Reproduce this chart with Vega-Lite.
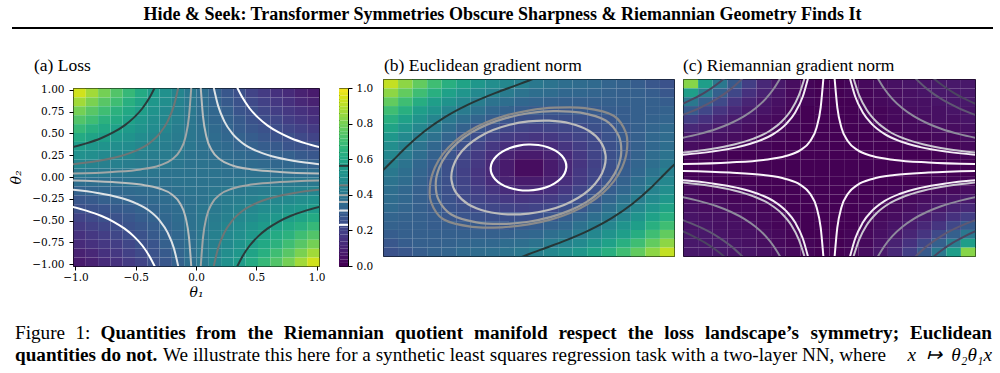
{
"$schema":"https://vega.github.io/schema/vega-lite/v6.json",
"padding":{"left":9,"top":6,"right":0,"bottom":0},
"background":"white",
"config":{
 "view":{"stroke":"black","strokeWidth":1},
 "font":"Liberation Serif",
 "text":{"font":"Liberation Serif","fontSize":19.2,"baseline":"alphabetic","align":"left","color":"black"},
 "title":{"font":"Liberation Serif","fontSize":17.5,"fontWeight":"normal","color":"black","anchor":"start","frame":"group"},
 "axis":{"labelFont":"DejaVu Serif","labelFontSize":10.5,"labelColor":"black","tickColor":"black","tickSize":4,"domain":false,"grid":false,"titleFont":"DejaVu Serif","titleFontStyle":"italic","titleFontWeight":"normal","titleFontSize":14,"titleColor":"black"}
},
"datasets":{
"grid":[
{"x":-1.02,"y":0.918,"a":0.93,"b":0.91,"c":0.82},{"x":-0.918,"y":0.918,"a":0.86,"b":0.83,"c":0.56},{"x":-0.816,"y":0.918,"a":0.79,"b":0.76,"c":0.4},{"x":-0.714,"y":0.918,"a":0.73,"b":0.69,"c":0.28},{"x":-0.612,"y":0.918,"a":0.67,"b":0.63,"c":0.18},{"x":-0.51,"y":0.918,"a":0.61,"b":0.58,"c":0.11},{"x":-0.408,"y":0.918,"a":0.55,"b":0.53,"c":0.06},{"x":-0.306,"y":0.918,"a":0.5,"b":0.49,"c":0.03},{"x":-0.204,"y":0.918,"a":0.45,"b":0.46,"c":0.01},{"x":-0.102,"y":0.918,"a":0.4,"b":0.43,"c":0},{"x":0,"y":0.918,"a":0.36,"b":0.4,"c":0},{"x":0.102,"y":0.918,"a":0.31,"b":0.38,"c":0.01},{"x":0.204,"y":0.918,"a":0.27,"b":0.36,"c":0.02},{"x":0.306,"y":0.918,"a":0.24,"b":0.35,"c":0.03},{"x":0.408,"y":0.918,"a":0.2,"b":0.34,"c":0.04},{"x":0.51,"y":0.918,"a":0.17,"b":0.32,"c":0.05},{"x":0.612,"y":0.918,"a":0.14,"b":0.31,"c":0.05},{"x":0.714,"y":0.918,"a":0.12,"b":0.29,"c":0.06},{"x":0.816,"y":0.918,"a":0.09,"b":0.27,"c":0.06},{"x":0.918,"y":0.918,"a":0.07,"b":0.25,"c":0.06},
{"x":-1.02,"y":0.816,"a":0.86,"b":0.83,"c":0.56},{"x":-0.918,"y":0.816,"a":0.8,"b":0.76,"c":0.42},{"x":-0.816,"y":0.816,"a":0.74,"b":0.69,"c":0.3},{"x":-0.714,"y":0.816,"a":0.69,"b":0.63,"c":0.21},{"x":-0.612,"y":0.816,"a":0.63,"b":0.57,"c":0.14},{"x":-0.51,"y":0.816,"a":0.58,"b":0.52,"c":0.09},{"x":-0.408,"y":0.816,"a":0.53,"b":0.47,"c":0.05},{"x":-0.306,"y":0.816,"a":0.49,"b":0.44,"c":0.02},{"x":-0.204,"y":0.816,"a":0.44,"b":0.41,"c":0.01},{"x":-0.102,"y":0.816,"a":0.4,"b":0.38,"c":0},{"x":0,"y":0.816,"a":0.36,"b":0.36,"c":0},{"x":0.102,"y":0.816,"a":0.32,"b":0.35,"c":0.01},{"x":0.204,"y":0.816,"a":0.28,"b":0.33,"c":0.01},{"x":0.306,"y":0.816,"a":0.25,"b":0.33,"c":0.02},{"x":0.408,"y":0.816,"a":0.22,"b":0.32,"c":0.03},{"x":0.51,"y":0.816,"a":0.19,"b":0.31,"c":0.04},{"x":0.612,"y":0.816,"a":0.16,"b":0.3,"c":0.05},{"x":0.714,"y":0.816,"a":0.14,"b":0.3,"c":0.06},{"x":0.816,"y":0.816,"a":0.11,"b":0.29,"c":0.06},{"x":0.918,"y":0.816,"a":0.09,"b":0.27,"c":0.06},
{"x":-1.02,"y":0.714,"a":0.79,"b":0.76,"c":0.4},{"x":-0.918,"y":0.714,"a":0.74,"b":0.69,"c":0.3},{"x":-0.816,"y":0.714,"a":0.69,"b":0.62,"c":0.22},{"x":-0.714,"y":0.714,"a":0.64,"b":0.56,"c":0.15},{"x":-0.612,"y":0.714,"a":0.6,"b":0.51,"c":0.1},{"x":-0.51,"y":0.714,"a":0.56,"b":0.46,"c":0.06},{"x":-0.408,"y":0.714,"a":0.51,"b":0.42,"c":0.04},{"x":-0.306,"y":0.714,"a":0.47,"b":0.38,"c":0.02},{"x":-0.204,"y":0.714,"a":0.43,"b":0.36,"c":0.01},{"x":-0.102,"y":0.714,"a":0.4,"b":0.33,"c":0},{"x":0,"y":0.714,"a":0.36,"b":0.32,"c":0},{"x":0.102,"y":0.714,"a":0.33,"b":0.31,"c":0},{"x":0.204,"y":0.714,"a":0.3,"b":0.3,"c":0.01},{"x":0.306,"y":0.714,"a":0.26,"b":0.3,"c":0.02},{"x":0.408,"y":0.714,"a":0.24,"b":0.3,"c":0.03},{"x":0.51,"y":0.714,"a":0.21,"b":0.3,"c":0.04},{"x":0.612,"y":0.714,"a":0.18,"b":0.3,"c":0.04},{"x":0.714,"y":0.714,"a":0.16,"b":0.3,"c":0.05},{"x":0.816,"y":0.714,"a":0.14,"b":0.3,"c":0.06},{"x":0.918,"y":0.714,"a":0.12,"b":0.29,"c":0.06},
{"x":-1.02,"y":0.612,"a":0.73,"b":0.69,"c":0.28},{"x":-0.918,"y":0.612,"a":0.69,"b":0.63,"c":0.21},{"x":-0.816,"y":0.612,"a":0.64,"b":0.56,"c":0.15},{"x":-0.714,"y":0.612,"a":0.61,"b":0.51,"c":0.11},{"x":-0.612,"y":0.612,"a":0.57,"b":0.45,"c":0.07},{"x":-0.51,"y":0.612,"a":0.53,"b":0.41,"c":0.05},{"x":-0.408,"y":0.612,"a":0.49,"b":0.37,"c":0.03},{"x":-0.306,"y":0.612,"a":0.46,"b":0.33,"c":0.01},{"x":-0.204,"y":0.612,"a":0.43,"b":0.31,"c":0},{"x":-0.102,"y":0.612,"a":0.39,"b":0.29,"c":0},{"x":0,"y":0.612,"a":0.36,"b":0.28,"c":0},{"x":0.102,"y":0.612,"a":0.33,"b":0.27,"c":0},{"x":0.204,"y":0.612,"a":0.31,"b":0.27,"c":0.01},{"x":0.306,"y":0.612,"a":0.28,"b":0.28,"c":0.01},{"x":0.408,"y":0.612,"a":0.25,"b":0.28,"c":0.02},{"x":0.51,"y":0.612,"a":0.23,"b":0.29,"c":0.03},{"x":0.612,"y":0.612,"a":0.21,"b":0.29,"c":0.04},{"x":0.714,"y":0.612,"a":0.18,"b":0.3,"c":0.04},{"x":0.816,"y":0.612,"a":0.16,"b":0.3,"c":0.05},{"x":0.918,"y":0.612,"a":0.14,"b":0.31,"c":0.05},
{"x":-1.02,"y":0.51,"a":0.67,"b":0.63,"c":0.18},{"x":-0.918,"y":0.51,"a":0.63,"b":0.57,"c":0.14},{"x":-0.816,"y":0.51,"a":0.6,"b":0.51,"c":0.1},{"x":-0.714,"y":0.51,"a":0.57,"b":0.45,"c":0.07},{"x":-0.612,"y":0.51,"a":0.54,"b":0.4,"c":0.05},{"x":-0.51,"y":0.51,"a":0.51,"b":0.36,"c":0.03},{"x":-0.408,"y":0.51,"a":0.48,"b":0.32,"c":0.02},{"x":-0.306,"y":0.51,"a":0.45,"b":0.29,"c":0.01},{"x":-0.204,"y":0.51,"a":0.42,"b":0.26,"c":0},{"x":-0.102,"y":0.51,"a":0.39,"b":0.24,"c":0},{"x":0,"y":0.51,"a":0.37,"b":0.24,"c":0},{"x":0.102,"y":0.51,"a":0.34,"b":0.24,"c":0},{"x":0.204,"y":0.51,"a":0.32,"b":0.24,"c":0.01},{"x":0.306,"y":0.51,"a":0.29,"b":0.25,"c":0.01},{"x":0.408,"y":0.51,"a":0.27,"b":0.26,"c":0.02},{"x":0.51,"y":0.51,"a":0.25,"b":0.27,"c":0.02},{"x":0.612,"y":0.51,"a":0.23,"b":0.29,"c":0.03},{"x":0.714,"y":0.51,"a":0.21,"b":0.3,"c":0.04},{"x":0.816,"y":0.51,"a":0.19,"b":0.31,"c":0.04},{"x":0.918,"y":0.51,"a":0.17,"b":0.32,"c":0.05},
{"x":-1.02,"y":0.408,"a":0.61,"b":0.58,"c":0.11},{"x":-0.918,"y":0.408,"a":0.58,"b":0.52,"c":0.09},{"x":-0.816,"y":0.408,"a":0.56,"b":0.46,"c":0.06},{"x":-0.714,"y":0.408,"a":0.53,"b":0.41,"c":0.05},{"x":-0.612,"y":0.408,"a":0.51,"b":0.36,"c":0.03},{"x":-0.51,"y":0.408,"a":0.48,"b":0.31,"c":0.02},{"x":-0.408,"y":0.408,"a":0.46,"b":0.27,"c":0.01},{"x":-0.306,"y":0.408,"a":0.43,"b":0.24,"c":0.01},{"x":-0.204,"y":0.408,"a":0.41,"b":0.21,"c":0},{"x":-0.102,"y":0.408,"a":0.39,"b":0.2,"c":0},{"x":0,"y":0.408,"a":0.37,"b":0.19,"c":0},{"x":0.102,"y":0.408,"a":0.35,"b":0.2,"c":0},{"x":0.204,"y":0.408,"a":0.33,"b":0.21,"c":0},{"x":0.306,"y":0.408,"a":0.31,"b":0.22,"c":0.01},{"x":0.408,"y":0.408,"a":0.29,"b":0.24,"c":0.01},{"x":0.51,"y":0.408,"a":0.27,"b":0.26,"c":0.02},{"x":0.612,"y":0.408,"a":0.25,"b":0.28,"c":0.02},{"x":0.714,"y":0.408,"a":0.24,"b":0.3,"c":0.03},{"x":0.816,"y":0.408,"a":0.22,"b":0.32,"c":0.03},{"x":0.918,"y":0.408,"a":0.2,"b":0.34,"c":0.04},
{"x":-1.02,"y":0.306,"a":0.55,"b":0.53,"c":0.06},{"x":-0.918,"y":0.306,"a":0.53,"b":0.47,"c":0.05},{"x":-0.816,"y":0.306,"a":0.51,"b":0.42,"c":0.04},{"x":-0.714,"y":0.306,"a":0.49,"b":0.37,"c":0.03},{"x":-0.612,"y":0.306,"a":0.48,"b":0.32,"c":0.02},{"x":-0.51,"y":0.306,"a":0.46,"b":0.27,"c":0.01},{"x":-0.408,"y":0.306,"a":0.44,"b":0.23,"c":0.01},{"x":-0.306,"y":0.306,"a":0.42,"b":0.2,"c":0},{"x":-0.204,"y":0.306,"a":0.4,"b":0.17,"c":0},{"x":-0.102,"y":0.306,"a":0.39,"b":0.16,"c":0},{"x":0,"y":0.306,"a":0.37,"b":0.15,"c":0},{"x":0.102,"y":0.306,"a":0.35,"b":0.16,"c":0},{"x":0.204,"y":0.306,"a":0.34,"b":0.18,"c":0},{"x":0.306,"y":0.306,"a":0.32,"b":0.2,"c":0},{"x":0.408,"y":0.306,"a":0.31,"b":0.22,"c":0.01},{"x":0.51,"y":0.306,"a":0.29,"b":0.25,"c":0.01},{"x":0.612,"y":0.306,"a":0.28,"b":0.28,"c":0.01},{"x":0.714,"y":0.306,"a":0.26,"b":0.3,"c":0.02},{"x":0.816,"y":0.306,"a":0.25,"b":0.33,"c":0.02},{"x":0.918,"y":0.306,"a":0.24,"b":0.35,"c":0.03},
{"x":-1.02,"y":0.204,"a":0.5,"b":0.49,"c":0.03},{"x":-0.918,"y":0.204,"a":0.49,"b":0.44,"c":0.02},{"x":-0.816,"y":0.204,"a":0.47,"b":0.38,"c":0.02},{"x":-0.714,"y":0.204,"a":0.46,"b":0.33,"c":0.01},{"x":-0.612,"y":0.204,"a":0.45,"b":0.29,"c":0.01},{"x":-0.51,"y":0.204,"a":0.43,"b":0.24,"c":0.01},{"x":-0.408,"y":0.204,"a":0.42,"b":0.2,"c":0},{"x":-0.306,"y":0.204,"a":0.41,"b":0.16,"c":0},{"x":-0.204,"y":0.204,"a":0.4,"b":0.13,"c":0},{"x":-0.102,"y":0.204,"a":0.38,"b":0.11,"c":0},{"x":0,"y":0.204,"a":0.37,"b":0.11,"c":0},{"x":0.102,"y":0.204,"a":0.36,"b":0.12,"c":0},{"x":0.204,"y":0.204,"a":0.35,"b":0.15,"c":0},{"x":0.306,"y":0.204,"a":0.34,"b":0.18,"c":0},{"x":0.408,"y":0.204,"a":0.33,"b":0.21,"c":0},{"x":0.51,"y":0.204,"a":0.32,"b":0.24,"c":0.01},{"x":0.612,"y":0.204,"a":0.31,"b":0.27,"c":0.01},{"x":0.714,"y":0.204,"a":0.3,"b":0.3,"c":0.01},{"x":0.816,"y":0.204,"a":0.28,"b":0.33,"c":0.01},{"x":0.918,"y":0.204,"a":0.27,"b":0.36,"c":0.02},
{"x":-1.02,"y":0.102,"a":0.45,"b":0.46,"c":0.01},{"x":-0.918,"y":0.102,"a":0.44,"b":0.41,"c":0.01},{"x":-0.816,"y":0.102,"a":0.43,"b":0.36,"c":0.01},{"x":-0.714,"y":0.102,"a":0.43,"b":0.31,"c":0},{"x":-0.612,"y":0.102,"a":0.42,"b":0.26,"c":0},{"x":-0.51,"y":0.102,"a":0.41,"b":0.21,"c":0},{"x":-0.408,"y":0.102,"a":0.4,"b":0.17,"c":0},{"x":-0.306,"y":0.102,"a":0.4,"b":0.13,"c":0},{"x":-0.204,"y":0.102,"a":0.39,"b":0.09,"c":0},{"x":-0.102,"y":0.102,"a":0.38,"b":0.07,"c":0},{"x":0,"y":0.102,"a":0.38,"b":0.07,"c":0},{"x":0.102,"y":0.102,"a":0.37,"b":0.09,"c":0},{"x":0.204,"y":0.102,"a":0.36,"b":0.12,"c":0},{"x":0.306,"y":0.102,"a":0.35,"b":0.16,"c":0},{"x":0.408,"y":0.102,"a":0.35,"b":0.2,"c":0},{"x":0.51,"y":0.102,"a":0.34,"b":0.24,"c":0},{"x":0.612,"y":0.102,"a":0.33,"b":0.27,"c":0},{"x":0.714,"y":0.102,"a":0.33,"b":0.31,"c":0},{"x":0.816,"y":0.102,"a":0.32,"b":0.35,"c":0.01},{"x":0.918,"y":0.102,"a":0.31,"b":0.38,"c":0.01},
{"x":-1.02,"y":0,"a":0.4,"b":0.43,"c":0},{"x":-0.918,"y":0,"a":0.4,"b":0.38,"c":0},{"x":-0.816,"y":0,"a":0.4,"b":0.33,"c":0},{"x":-0.714,"y":0,"a":0.39,"b":0.29,"c":0},{"x":-0.612,"y":0,"a":0.39,"b":0.24,"c":0},{"x":-0.51,"y":0,"a":0.39,"b":0.2,"c":0},{"x":-0.408,"y":0,"a":0.39,"b":0.16,"c":0},{"x":-0.306,"y":0,"a":0.38,"b":0.11,"c":0},{"x":-0.204,"y":0,"a":0.38,"b":0.07,"c":0},{"x":-0.102,"y":0,"a":0.38,"b":0.03,"c":0},{"x":0,"y":0,"a":0.38,"b":0.03,"c":0},{"x":0.102,"y":0,"a":0.38,"b":0.07,"c":0},{"x":0.204,"y":0,"a":0.37,"b":0.11,"c":0},{"x":0.306,"y":0,"a":0.37,"b":0.15,"c":0},{"x":0.408,"y":0,"a":0.37,"b":0.19,"c":0},{"x":0.51,"y":0,"a":0.37,"b":0.24,"c":0},{"x":0.612,"y":0,"a":0.36,"b":0.28,"c":0},{"x":0.714,"y":0,"a":0.36,"b":0.32,"c":0},{"x":0.816,"y":0,"a":0.36,"b":0.36,"c":0},{"x":0.918,"y":0,"a":0.36,"b":0.4,"c":0},
{"x":-1.02,"y":-0.102,"a":0.36,"b":0.4,"c":0},{"x":-0.918,"y":-0.102,"a":0.36,"b":0.36,"c":0},{"x":-0.816,"y":-0.102,"a":0.36,"b":0.32,"c":0},{"x":-0.714,"y":-0.102,"a":0.36,"b":0.28,"c":0},{"x":-0.612,"y":-0.102,"a":0.37,"b":0.24,"c":0},{"x":-0.51,"y":-0.102,"a":0.37,"b":0.19,"c":0},{"x":-0.408,"y":-0.102,"a":0.37,"b":0.15,"c":0},{"x":-0.306,"y":-0.102,"a":0.37,"b":0.11,"c":0},{"x":-0.204,"y":-0.102,"a":0.38,"b":0.07,"c":0},{"x":-0.102,"y":-0.102,"a":0.38,"b":0.03,"c":0},{"x":0,"y":-0.102,"a":0.38,"b":0.03,"c":0},{"x":0.102,"y":-0.102,"a":0.38,"b":0.07,"c":0},{"x":0.204,"y":-0.102,"a":0.38,"b":0.11,"c":0},{"x":0.306,"y":-0.102,"a":0.39,"b":0.16,"c":0},{"x":0.408,"y":-0.102,"a":0.39,"b":0.2,"c":0},{"x":0.51,"y":-0.102,"a":0.39,"b":0.24,"c":0},{"x":0.612,"y":-0.102,"a":0.39,"b":0.29,"c":0},{"x":0.714,"y":-0.102,"a":0.4,"b":0.33,"c":0},{"x":0.816,"y":-0.102,"a":0.4,"b":0.38,"c":0},{"x":0.918,"y":-0.102,"a":0.4,"b":0.43,"c":0},
{"x":-1.02,"y":-0.204,"a":0.31,"b":0.38,"c":0.01},{"x":-0.918,"y":-0.204,"a":0.32,"b":0.35,"c":0.01},{"x":-0.816,"y":-0.204,"a":0.33,"b":0.31,"c":0},{"x":-0.714,"y":-0.204,"a":0.33,"b":0.27,"c":0},{"x":-0.612,"y":-0.204,"a":0.34,"b":0.24,"c":0},{"x":-0.51,"y":-0.204,"a":0.35,"b":0.2,"c":0},{"x":-0.408,"y":-0.204,"a":0.35,"b":0.16,"c":0},{"x":-0.306,"y":-0.204,"a":0.36,"b":0.12,"c":0},{"x":-0.204,"y":-0.204,"a":0.37,"b":0.09,"c":0},{"x":-0.102,"y":-0.204,"a":0.38,"b":0.07,"c":0},{"x":0,"y":-0.204,"a":0.38,"b":0.07,"c":0},{"x":0.102,"y":-0.204,"a":0.39,"b":0.09,"c":0},{"x":0.204,"y":-0.204,"a":0.4,"b":0.13,"c":0},{"x":0.306,"y":-0.204,"a":0.4,"b":0.17,"c":0},{"x":0.408,"y":-0.204,"a":0.41,"b":0.21,"c":0},{"x":0.51,"y":-0.204,"a":0.42,"b":0.26,"c":0},{"x":0.612,"y":-0.204,"a":0.43,"b":0.31,"c":0},{"x":0.714,"y":-0.204,"a":0.43,"b":0.36,"c":0.01},{"x":0.816,"y":-0.204,"a":0.44,"b":0.41,"c":0.01},{"x":0.918,"y":-0.204,"a":0.45,"b":0.46,"c":0.01},
{"x":-1.02,"y":-0.306,"a":0.27,"b":0.36,"c":0.02},{"x":-0.918,"y":-0.306,"a":0.28,"b":0.33,"c":0.01},{"x":-0.816,"y":-0.306,"a":0.3,"b":0.3,"c":0.01},{"x":-0.714,"y":-0.306,"a":0.31,"b":0.27,"c":0.01},{"x":-0.612,"y":-0.306,"a":0.32,"b":0.24,"c":0.01},{"x":-0.51,"y":-0.306,"a":0.33,"b":0.21,"c":0},{"x":-0.408,"y":-0.306,"a":0.34,"b":0.18,"c":0},{"x":-0.306,"y":-0.306,"a":0.35,"b":0.15,"c":0},{"x":-0.204,"y":-0.306,"a":0.36,"b":0.12,"c":0},{"x":-0.102,"y":-0.306,"a":0.37,"b":0.11,"c":0},{"x":0,"y":-0.306,"a":0.38,"b":0.11,"c":0},{"x":0.102,"y":-0.306,"a":0.4,"b":0.13,"c":0},{"x":0.204,"y":-0.306,"a":0.41,"b":0.16,"c":0},{"x":0.306,"y":-0.306,"a":0.42,"b":0.2,"c":0},{"x":0.408,"y":-0.306,"a":0.43,"b":0.24,"c":0.01},{"x":0.51,"y":-0.306,"a":0.45,"b":0.29,"c":0.01},{"x":0.612,"y":-0.306,"a":0.46,"b":0.33,"c":0.01},{"x":0.714,"y":-0.306,"a":0.47,"b":0.38,"c":0.02},{"x":0.816,"y":-0.306,"a":0.49,"b":0.44,"c":0.02},{"x":0.918,"y":-0.306,"a":0.5,"b":0.49,"c":0.03},
{"x":-1.02,"y":-0.408,"a":0.24,"b":0.35,"c":0.03},{"x":-0.918,"y":-0.408,"a":0.25,"b":0.33,"c":0.02},{"x":-0.816,"y":-0.408,"a":0.26,"b":0.3,"c":0.02},{"x":-0.714,"y":-0.408,"a":0.28,"b":0.28,"c":0.01},{"x":-0.612,"y":-0.408,"a":0.29,"b":0.25,"c":0.01},{"x":-0.51,"y":-0.408,"a":0.31,"b":0.22,"c":0.01},{"x":-0.408,"y":-0.408,"a":0.32,"b":0.2,"c":0},{"x":-0.306,"y":-0.408,"a":0.34,"b":0.18,"c":0},{"x":-0.204,"y":-0.408,"a":0.35,"b":0.16,"c":0},{"x":-0.102,"y":-0.408,"a":0.37,"b":0.15,"c":0},{"x":0,"y":-0.408,"a":0.39,"b":0.16,"c":0},{"x":0.102,"y":-0.408,"a":0.4,"b":0.17,"c":0},{"x":0.204,"y":-0.408,"a":0.42,"b":0.2,"c":0},{"x":0.306,"y":-0.408,"a":0.44,"b":0.23,"c":0.01},{"x":0.408,"y":-0.408,"a":0.46,"b":0.27,"c":0.01},{"x":0.51,"y":-0.408,"a":0.48,"b":0.32,"c":0.02},{"x":0.612,"y":-0.408,"a":0.49,"b":0.37,"c":0.03},{"x":0.714,"y":-0.408,"a":0.51,"b":0.42,"c":0.04},{"x":0.816,"y":-0.408,"a":0.53,"b":0.47,"c":0.05},{"x":0.918,"y":-0.408,"a":0.55,"b":0.53,"c":0.06},
{"x":-1.02,"y":-0.51,"a":0.2,"b":0.34,"c":0.04},{"x":-0.918,"y":-0.51,"a":0.22,"b":0.32,"c":0.03},{"x":-0.816,"y":-0.51,"a":0.24,"b":0.3,"c":0.03},{"x":-0.714,"y":-0.51,"a":0.25,"b":0.28,"c":0.02},{"x":-0.612,"y":-0.51,"a":0.27,"b":0.26,"c":0.02},{"x":-0.51,"y":-0.51,"a":0.29,"b":0.24,"c":0.01},{"x":-0.408,"y":-0.51,"a":0.31,"b":0.22,"c":0.01},{"x":-0.306,"y":-0.51,"a":0.33,"b":0.21,"c":0},{"x":-0.204,"y":-0.51,"a":0.35,"b":0.2,"c":0},{"x":-0.102,"y":-0.51,"a":0.37,"b":0.19,"c":0},{"x":0,"y":-0.51,"a":0.39,"b":0.2,"c":0},{"x":0.102,"y":-0.51,"a":0.41,"b":0.21,"c":0},{"x":0.204,"y":-0.51,"a":0.43,"b":0.24,"c":0.01},{"x":0.306,"y":-0.51,"a":0.46,"b":0.27,"c":0.01},{"x":0.408,"y":-0.51,"a":0.48,"b":0.31,"c":0.02},{"x":0.51,"y":-0.51,"a":0.51,"b":0.36,"c":0.03},{"x":0.612,"y":-0.51,"a":0.53,"b":0.41,"c":0.05},{"x":0.714,"y":-0.51,"a":0.56,"b":0.46,"c":0.06},{"x":0.816,"y":-0.51,"a":0.58,"b":0.52,"c":0.09},{"x":0.918,"y":-0.51,"a":0.61,"b":0.58,"c":0.11},
{"x":-1.02,"y":-0.612,"a":0.17,"b":0.32,"c":0.05},{"x":-0.918,"y":-0.612,"a":0.19,"b":0.31,"c":0.04},{"x":-0.816,"y":-0.612,"a":0.21,"b":0.3,"c":0.04},{"x":-0.714,"y":-0.612,"a":0.23,"b":0.29,"c":0.03},{"x":-0.612,"y":-0.612,"a":0.25,"b":0.27,"c":0.02},{"x":-0.51,"y":-0.612,"a":0.27,"b":0.26,"c":0.02},{"x":-0.408,"y":-0.612,"a":0.29,"b":0.25,"c":0.01},{"x":-0.306,"y":-0.612,"a":0.32,"b":0.24,"c":0.01},{"x":-0.204,"y":-0.612,"a":0.34,"b":0.24,"c":0},{"x":-0.102,"y":-0.612,"a":0.37,"b":0.24,"c":0},{"x":0,"y":-0.612,"a":0.39,"b":0.24,"c":0},{"x":0.102,"y":-0.612,"a":0.42,"b":0.26,"c":0},{"x":0.204,"y":-0.612,"a":0.45,"b":0.29,"c":0.01},{"x":0.306,"y":-0.612,"a":0.48,"b":0.32,"c":0.02},{"x":0.408,"y":-0.612,"a":0.51,"b":0.36,"c":0.03},{"x":0.51,"y":-0.612,"a":0.54,"b":0.4,"c":0.05},{"x":0.612,"y":-0.612,"a":0.57,"b":0.45,"c":0.07},{"x":0.714,"y":-0.612,"a":0.6,"b":0.51,"c":0.1},{"x":0.816,"y":-0.612,"a":0.63,"b":0.57,"c":0.14},{"x":0.918,"y":-0.612,"a":0.67,"b":0.63,"c":0.18},
{"x":-1.02,"y":-0.714,"a":0.14,"b":0.31,"c":0.05},{"x":-0.918,"y":-0.714,"a":0.16,"b":0.3,"c":0.05},{"x":-0.816,"y":-0.714,"a":0.18,"b":0.3,"c":0.04},{"x":-0.714,"y":-0.714,"a":0.21,"b":0.29,"c":0.04},{"x":-0.612,"y":-0.714,"a":0.23,"b":0.29,"c":0.03},{"x":-0.51,"y":-0.714,"a":0.25,"b":0.28,"c":0.02},{"x":-0.408,"y":-0.714,"a":0.28,"b":0.28,"c":0.01},{"x":-0.306,"y":-0.714,"a":0.31,"b":0.27,"c":0.01},{"x":-0.204,"y":-0.714,"a":0.33,"b":0.27,"c":0},{"x":-0.102,"y":-0.714,"a":0.36,"b":0.28,"c":0},{"x":0,"y":-0.714,"a":0.39,"b":0.29,"c":0},{"x":0.102,"y":-0.714,"a":0.43,"b":0.31,"c":0},{"x":0.204,"y":-0.714,"a":0.46,"b":0.33,"c":0.01},{"x":0.306,"y":-0.714,"a":0.49,"b":0.37,"c":0.03},{"x":0.408,"y":-0.714,"a":0.53,"b":0.41,"c":0.05},{"x":0.51,"y":-0.714,"a":0.57,"b":0.45,"c":0.07},{"x":0.612,"y":-0.714,"a":0.61,"b":0.51,"c":0.11},{"x":0.714,"y":-0.714,"a":0.64,"b":0.56,"c":0.15},{"x":0.816,"y":-0.714,"a":0.69,"b":0.63,"c":0.21},{"x":0.918,"y":-0.714,"a":0.73,"b":0.69,"c":0.28},
{"x":-1.02,"y":-0.816,"a":0.12,"b":0.29,"c":0.06},{"x":-0.918,"y":-0.816,"a":0.14,"b":0.3,"c":0.06},{"x":-0.816,"y":-0.816,"a":0.16,"b":0.3,"c":0.05},{"x":-0.714,"y":-0.816,"a":0.18,"b":0.3,"c":0.04},{"x":-0.612,"y":-0.816,"a":0.21,"b":0.3,"c":0.04},{"x":-0.51,"y":-0.816,"a":0.24,"b":0.3,"c":0.03},{"x":-0.408,"y":-0.816,"a":0.26,"b":0.3,"c":0.02},{"x":-0.306,"y":-0.816,"a":0.3,"b":0.3,"c":0.01},{"x":-0.204,"y":-0.816,"a":0.33,"b":0.31,"c":0},{"x":-0.102,"y":-0.816,"a":0.36,"b":0.32,"c":0},{"x":0,"y":-0.816,"a":0.4,"b":0.33,"c":0},{"x":0.102,"y":-0.816,"a":0.43,"b":0.36,"c":0.01},{"x":0.204,"y":-0.816,"a":0.47,"b":0.38,"c":0.02},{"x":0.306,"y":-0.816,"a":0.51,"b":0.42,"c":0.04},{"x":0.408,"y":-0.816,"a":0.56,"b":0.46,"c":0.06},{"x":0.51,"y":-0.816,"a":0.6,"b":0.51,"c":0.1},{"x":0.612,"y":-0.816,"a":0.64,"b":0.56,"c":0.15},{"x":0.714,"y":-0.816,"a":0.69,"b":0.62,"c":0.22},{"x":0.816,"y":-0.816,"a":0.74,"b":0.69,"c":0.3},{"x":0.918,"y":-0.816,"a":0.79,"b":0.76,"c":0.4},
{"x":-1.02,"y":-0.918,"a":0.09,"b":0.27,"c":0.06},{"x":-0.918,"y":-0.918,"a":0.11,"b":0.29,"c":0.06},{"x":-0.816,"y":-0.918,"a":0.14,"b":0.3,"c":0.06},{"x":-0.714,"y":-0.918,"a":0.16,"b":0.3,"c":0.05},{"x":-0.612,"y":-0.918,"a":0.19,"b":0.31,"c":0.04},{"x":-0.51,"y":-0.918,"a":0.22,"b":0.32,"c":0.03},{"x":-0.408,"y":-0.918,"a":0.25,"b":0.33,"c":0.02},{"x":-0.306,"y":-0.918,"a":0.28,"b":0.33,"c":0.01},{"x":-0.204,"y":-0.918,"a":0.32,"b":0.35,"c":0.01},{"x":-0.102,"y":-0.918,"a":0.36,"b":0.36,"c":0},{"x":0,"y":-0.918,"a":0.4,"b":0.38,"c":0},{"x":0.102,"y":-0.918,"a":0.44,"b":0.41,"c":0.01},{"x":0.204,"y":-0.918,"a":0.49,"b":0.44,"c":0.02},{"x":0.306,"y":-0.918,"a":0.53,"b":0.47,"c":0.05},{"x":0.408,"y":-0.918,"a":0.58,"b":0.52,"c":0.09},{"x":0.51,"y":-0.918,"a":0.63,"b":0.57,"c":0.14},{"x":0.612,"y":-0.918,"a":0.69,"b":0.63,"c":0.21},{"x":0.714,"y":-0.918,"a":0.74,"b":0.69,"c":0.3},{"x":0.816,"y":-0.918,"a":0.8,"b":0.76,"c":0.42},{"x":0.918,"y":-0.918,"a":0.86,"b":0.83,"c":0.56},
{"x":-1.02,"y":-1.02,"a":0.07,"b":0.25,"c":0.06},{"x":-0.918,"y":-1.02,"a":0.09,"b":0.27,"c":0.06},{"x":-0.816,"y":-1.02,"a":0.12,"b":0.29,"c":0.06},{"x":-0.714,"y":-1.02,"a":0.14,"b":0.31,"c":0.05},{"x":-0.612,"y":-1.02,"a":0.17,"b":0.32,"c":0.05},{"x":-0.51,"y":-1.02,"a":0.2,"b":0.34,"c":0.04},{"x":-0.408,"y":-1.02,"a":0.24,"b":0.35,"c":0.03},{"x":-0.306,"y":-1.02,"a":0.27,"b":0.36,"c":0.02},{"x":-0.204,"y":-1.02,"a":0.31,"b":0.38,"c":0.01},{"x":-0.102,"y":-1.02,"a":0.36,"b":0.4,"c":0},{"x":0,"y":-1.02,"a":0.4,"b":0.43,"c":0},{"x":0.102,"y":-1.02,"a":0.45,"b":0.46,"c":0.01},{"x":0.204,"y":-1.02,"a":0.5,"b":0.49,"c":0.03},{"x":0.306,"y":-1.02,"a":0.55,"b":0.53,"c":0.06},{"x":0.408,"y":-1.02,"a":0.61,"b":0.58,"c":0.11},{"x":0.51,"y":-1.02,"a":0.67,"b":0.63,"c":0.18},{"x":0.612,"y":-1.02,"a":0.73,"b":0.69,"c":0.28},{"x":0.714,"y":-1.02,"a":0.79,"b":0.76,"c":0.4},{"x":0.816,"y":-1.02,"a":0.86,"b":0.83,"c":0.56},{"x":0.918,"y":-1.02,"a":0.93,"b":0.91,"c":0.82}
],
"hyp":[
{"g":1,"p":0.04,"x":0.038,"y":1.05},{"g":1,"p":0.04,"x":0.058,"y":0.694},{"g":1,"p":0.04,"x":0.087,"y":0.458},{"g":1,"p":0.04,"x":0.132,"y":0.303},{"g":1,"p":0.04,"x":0.2,"y":0.2},{"g":1,"p":0.04,"x":0.303,"y":0.132},{"g":1,"p":0.04,"x":0.458,"y":0.087},{"g":1,"p":0.04,"x":0.694,"y":0.058},{"g":1,"p":0.04,"x":1.05,"y":0.038},
{"g":2,"p":0.04,"x":-0.038,"y":-1.05},{"g":2,"p":0.04,"x":-0.058,"y":-0.694},{"g":2,"p":0.04,"x":-0.087,"y":-0.458},{"g":2,"p":0.04,"x":-0.132,"y":-0.303},{"g":2,"p":0.04,"x":-0.2,"y":-0.2},{"g":2,"p":0.04,"x":-0.303,"y":-0.132},{"g":2,"p":0.04,"x":-0.458,"y":-0.087},{"g":2,"p":0.04,"x":-0.694,"y":-0.058},{"g":2,"p":0.04,"x":-1.05,"y":-0.038},
{"g":3,"p":-0.04,"x":-0.038,"y":1.05},{"g":3,"p":-0.04,"x":-0.058,"y":0.694},{"g":3,"p":-0.04,"x":-0.087,"y":0.458},{"g":3,"p":-0.04,"x":-0.132,"y":0.303},{"g":3,"p":-0.04,"x":-0.2,"y":0.2},{"g":3,"p":-0.04,"x":-0.303,"y":0.132},{"g":3,"p":-0.04,"x":-0.458,"y":0.087},{"g":3,"p":-0.04,"x":-0.694,"y":0.058},{"g":3,"p":-0.04,"x":-1.05,"y":0.038},
{"g":4,"p":-0.04,"x":0.038,"y":-1.05},{"g":4,"p":-0.04,"x":0.058,"y":-0.694},{"g":4,"p":-0.04,"x":0.087,"y":-0.458},{"g":4,"p":-0.04,"x":0.132,"y":-0.303},{"g":4,"p":-0.04,"x":0.2,"y":-0.2},{"g":4,"p":-0.04,"x":0.303,"y":-0.132},{"g":4,"p":-0.04,"x":0.458,"y":-0.087},{"g":4,"p":-0.04,"x":0.694,"y":-0.058},{"g":4,"p":-0.04,"x":1.05,"y":-0.038},
{"g":5,"p":0.15,"x":0.143,"y":1.05},{"g":5,"p":0.15,"x":0.183,"y":0.818},{"g":5,"p":0.15,"x":0.235,"y":0.638},{"g":5,"p":0.15,"x":0.302,"y":0.497},{"g":5,"p":0.15,"x":0.387,"y":0.387},{"g":5,"p":0.15,"x":0.497,"y":0.302},{"g":5,"p":0.15,"x":0.638,"y":0.235},{"g":5,"p":0.15,"x":0.818,"y":0.183},{"g":5,"p":0.15,"x":1.05,"y":0.143},
{"g":6,"p":0.15,"x":-0.143,"y":-1.05},{"g":6,"p":0.15,"x":-0.183,"y":-0.818},{"g":6,"p":0.15,"x":-0.235,"y":-0.638},{"g":6,"p":0.15,"x":-0.302,"y":-0.497},{"g":6,"p":0.15,"x":-0.387,"y":-0.387},{"g":6,"p":0.15,"x":-0.497,"y":-0.302},{"g":6,"p":0.15,"x":-0.638,"y":-0.235},{"g":6,"p":0.15,"x":-0.818,"y":-0.183},{"g":6,"p":0.15,"x":-1.05,"y":-0.143},
{"g":7,"p":-0.15,"x":-0.143,"y":1.05},{"g":7,"p":-0.15,"x":-0.183,"y":0.818},{"g":7,"p":-0.15,"x":-0.235,"y":0.638},{"g":7,"p":-0.15,"x":-0.302,"y":0.497},{"g":7,"p":-0.15,"x":-0.387,"y":0.387},{"g":7,"p":-0.15,"x":-0.497,"y":0.302},{"g":7,"p":-0.15,"x":-0.638,"y":0.235},{"g":7,"p":-0.15,"x":-0.818,"y":0.183},{"g":7,"p":-0.15,"x":-1.05,"y":0.143},
{"g":8,"p":-0.15,"x":0.143,"y":-1.05},{"g":8,"p":-0.15,"x":0.183,"y":-0.818},{"g":8,"p":-0.15,"x":0.235,"y":-0.638},{"g":8,"p":-0.15,"x":0.302,"y":-0.497},{"g":8,"p":-0.15,"x":0.387,"y":-0.387},{"g":8,"p":-0.15,"x":0.497,"y":-0.302},{"g":8,"p":-0.15,"x":0.638,"y":-0.235},{"g":8,"p":-0.15,"x":0.818,"y":-0.183},{"g":8,"p":-0.15,"x":1.05,"y":-0.143},
{"g":9,"p":0.175,"x":0.167,"y":1.05},{"g":9,"p":0.175,"x":0.21,"y":0.834},{"g":9,"p":0.175,"x":0.264,"y":0.663},{"g":9,"p":0.175,"x":0.332,"y":0.527},{"g":9,"p":0.175,"x":0.418,"y":0.418},{"g":9,"p":0.175,"x":0.527,"y":0.332},{"g":9,"p":0.175,"x":0.663,"y":0.264},{"g":9,"p":0.175,"x":0.834,"y":0.21},{"g":9,"p":0.175,"x":1.05,"y":0.167},
{"g":10,"p":0.175,"x":-0.167,"y":-1.05},{"g":10,"p":0.175,"x":-0.21,"y":-0.834},{"g":10,"p":0.175,"x":-0.264,"y":-0.663},{"g":10,"p":0.175,"x":-0.332,"y":-0.527},{"g":10,"p":0.175,"x":-0.418,"y":-0.418},{"g":10,"p":0.175,"x":-0.527,"y":-0.332},{"g":10,"p":0.175,"x":-0.663,"y":-0.264},{"g":10,"p":0.175,"x":-0.834,"y":-0.21},{"g":10,"p":0.175,"x":-1.05,"y":-0.167},
{"g":11,"p":-0.175,"x":-0.167,"y":1.05},{"g":11,"p":-0.175,"x":-0.21,"y":0.834},{"g":11,"p":-0.175,"x":-0.264,"y":0.663},{"g":11,"p":-0.175,"x":-0.332,"y":0.527},{"g":11,"p":-0.175,"x":-0.418,"y":0.418},{"g":11,"p":-0.175,"x":-0.527,"y":0.332},{"g":11,"p":-0.175,"x":-0.663,"y":0.264},{"g":11,"p":-0.175,"x":-0.834,"y":0.21},{"g":11,"p":-0.175,"x":-1.05,"y":0.167},
{"g":12,"p":-0.175,"x":0.167,"y":-1.05},{"g":12,"p":-0.175,"x":0.21,"y":-0.834},{"g":12,"p":-0.175,"x":0.264,"y":-0.663},{"g":12,"p":-0.175,"x":0.332,"y":-0.527},{"g":12,"p":-0.175,"x":0.418,"y":-0.418},{"g":12,"p":-0.175,"x":0.527,"y":-0.332},{"g":12,"p":-0.175,"x":0.663,"y":-0.264},{"g":12,"p":-0.175,"x":0.834,"y":-0.21},{"g":12,"p":-0.175,"x":1.05,"y":-0.167},
{"g":13,"p":0.35,"x":0.333,"y":1.05},{"g":13,"p":0.35,"x":0.385,"y":0.91},{"g":13,"p":0.35,"x":0.444,"y":0.788},{"g":13,"p":0.35,"x":0.513,"y":0.683},{"g":13,"p":0.35,"x":0.592,"y":0.592},{"g":13,"p":0.35,"x":0.683,"y":0.513},{"g":13,"p":0.35,"x":0.788,"y":0.444},{"g":13,"p":0.35,"x":0.91,"y":0.385},{"g":13,"p":0.35,"x":1.05,"y":0.333},
{"g":14,"p":0.35,"x":-0.333,"y":-1.05},{"g":14,"p":0.35,"x":-0.385,"y":-0.91},{"g":14,"p":0.35,"x":-0.444,"y":-0.788},{"g":14,"p":0.35,"x":-0.513,"y":-0.683},{"g":14,"p":0.35,"x":-0.592,"y":-0.592},{"g":14,"p":0.35,"x":-0.683,"y":-0.513},{"g":14,"p":0.35,"x":-0.788,"y":-0.444},{"g":14,"p":0.35,"x":-0.91,"y":-0.385},{"g":14,"p":0.35,"x":-1.05,"y":-0.333},
{"g":15,"p":-0.35,"x":-0.333,"y":1.05},{"g":15,"p":-0.35,"x":-0.385,"y":0.91},{"g":15,"p":-0.35,"x":-0.444,"y":0.788},{"g":15,"p":-0.35,"x":-0.513,"y":0.683},{"g":15,"p":-0.35,"x":-0.592,"y":0.592},{"g":15,"p":-0.35,"x":-0.683,"y":0.513},{"g":15,"p":-0.35,"x":-0.788,"y":0.444},{"g":15,"p":-0.35,"x":-0.91,"y":0.385},{"g":15,"p":-0.35,"x":-1.05,"y":0.333},
{"g":16,"p":-0.35,"x":0.333,"y":-1.05},{"g":16,"p":-0.35,"x":0.385,"y":-0.91},{"g":16,"p":-0.35,"x":0.444,"y":-0.788},{"g":16,"p":-0.35,"x":0.513,"y":-0.683},{"g":16,"p":-0.35,"x":0.592,"y":-0.592},{"g":16,"p":-0.35,"x":0.683,"y":-0.513},{"g":16,"p":-0.35,"x":0.788,"y":-0.444},{"g":16,"p":-0.35,"x":0.91,"y":-0.385},{"g":16,"p":-0.35,"x":1.05,"y":-0.333},
{"g":17,"p":0.62,"x":0.59,"y":1.05},{"g":17,"p":0.62,"x":0.682,"y":0.909},{"g":17,"p":0.62,"x":0.787,"y":0.787},{"g":17,"p":0.62,"x":0.909,"y":0.682},{"g":17,"p":0.62,"x":1.05,"y":0.59},
{"g":18,"p":0.62,"x":-0.59,"y":-1.05},{"g":18,"p":0.62,"x":-0.682,"y":-0.909},{"g":18,"p":0.62,"x":-0.787,"y":-0.787},{"g":18,"p":0.62,"x":-0.909,"y":-0.682},{"g":18,"p":0.62,"x":-1.05,"y":-0.59},
{"g":19,"p":-0.62,"x":-0.59,"y":1.05},{"g":19,"p":-0.62,"x":-0.682,"y":0.909},{"g":19,"p":-0.62,"x":-0.787,"y":0.787},{"g":19,"p":-0.62,"x":-0.909,"y":0.682},{"g":19,"p":-0.62,"x":-1.05,"y":0.59},
{"g":20,"p":-0.62,"x":0.59,"y":-1.05},{"g":20,"p":-0.62,"x":0.682,"y":-0.909},{"g":20,"p":-0.62,"x":0.787,"y":-0.787},{"g":20,"p":-0.62,"x":0.909,"y":-0.682},{"g":20,"p":-0.62,"x":1.05,"y":-0.59},
{"g":21,"p":0.75,"x":0.714,"y":1.05},{"g":21,"p":0.75,"x":0.787,"y":0.954},{"g":21,"p":0.75,"x":0.866,"y":0.866},{"g":21,"p":0.75,"x":0.954,"y":0.787},{"g":21,"p":0.75,"x":1.05,"y":0.714},
{"g":22,"p":0.75,"x":-0.714,"y":-1.05},{"g":22,"p":0.75,"x":-0.787,"y":-0.954},{"g":22,"p":0.75,"x":-0.866,"y":-0.866},{"g":22,"p":0.75,"x":-0.954,"y":-0.787},{"g":22,"p":0.75,"x":-1.05,"y":-0.714},
{"g":23,"p":-0.75,"x":-0.714,"y":1.05},{"g":23,"p":-0.75,"x":-0.787,"y":0.954},{"g":23,"p":-0.75,"x":-0.866,"y":0.866},{"g":23,"p":-0.75,"x":-0.954,"y":0.787},{"g":23,"p":-0.75,"x":-1.05,"y":0.714},
{"g":24,"p":-0.75,"x":0.714,"y":-1.05},{"g":24,"p":-0.75,"x":0.787,"y":-0.954},{"g":24,"p":-0.75,"x":0.866,"y":-0.866},{"g":24,"p":-0.75,"x":0.954,"y":-0.787},{"g":24,"p":-0.75,"x":1.05,"y":-0.714}
],
"ell":[
{"g":1,"k":0.424,"x":0.265,"y":0},{"g":1,"k":0.424,"x":0.259,"y":0.069},{"g":1,"k":0.424,"x":0.234,"y":0.135},{"g":1,"k":0.424,"x":0.192,"y":0.192},{"g":1,"k":0.424,"x":0.135,"y":0.234},{"g":1,"k":0.424,"x":0.069,"y":0.259},{"g":1,"k":0.424,"x":0,"y":0.265},{"g":1,"k":0.424,"x":-0.068,"y":0.253},{"g":1,"k":0.424,"x":-0.13,"y":0.225},{"g":1,"k":0.424,"x":-0.183,"y":0.183},{"g":1,"k":0.424,"x":-0.225,"y":0.13},{"g":1,"k":0.424,"x":-0.253,"y":0.068},{"g":1,"k":0.424,"x":-0.265,"y":0},{"g":1,"k":0.424,"x":-0.259,"y":-0.069},{"g":1,"k":0.424,"x":-0.234,"y":-0.135},{"g":1,"k":0.424,"x":-0.192,"y":-0.192},{"g":1,"k":0.424,"x":-0.135,"y":-0.234},{"g":1,"k":0.424,"x":-0.069,"y":-0.259},{"g":1,"k":0.424,"x":0,"y":-0.265},{"g":1,"k":0.424,"x":0.068,"y":-0.253},{"g":1,"k":0.424,"x":0.13,"y":-0.225},{"g":1,"k":0.424,"x":0.183,"y":-0.183},{"g":1,"k":0.424,"x":0.225,"y":-0.13},{"g":1,"k":0.424,"x":0.253,"y":-0.068},
{"g":2,"k":0.85,"x":0.531,"y":0},{"g":2,"k":0.85,"x":0.54,"y":0.145},{"g":2,"k":0.85,"x":0.507,"y":0.293},{"g":2,"k":0.85,"x":0.423,"y":0.423},{"g":2,"k":0.85,"x":0.293,"y":0.507},{"g":2,"k":0.85,"x":0.145,"y":0.54},{"g":2,"k":0.85,"x":0,"y":0.531},{"g":2,"k":0.85,"x":-0.132,"y":0.493},{"g":2,"k":0.85,"x":-0.249,"y":0.431},{"g":2,"k":0.85,"x":-0.349,"y":0.349},{"g":2,"k":0.85,"x":-0.431,"y":0.249},{"g":2,"k":0.85,"x":-0.493,"y":0.132},{"g":2,"k":0.85,"x":-0.531,"y":0},{"g":2,"k":0.85,"x":-0.54,"y":-0.145},{"g":2,"k":0.85,"x":-0.507,"y":-0.293},{"g":2,"k":0.85,"x":-0.423,"y":-0.423},{"g":2,"k":0.85,"x":-0.293,"y":-0.507},{"g":2,"k":0.85,"x":-0.145,"y":-0.54},{"g":2,"k":0.85,"x":0,"y":-0.531},{"g":2,"k":0.85,"x":0.132,"y":-0.493},{"g":2,"k":0.85,"x":0.249,"y":-0.431},{"g":2,"k":0.85,"x":0.349,"y":-0.349},{"g":2,"k":0.85,"x":0.431,"y":-0.249},{"g":2,"k":0.85,"x":0.493,"y":-0.132},
{"g":3,"k":1.0,"x":0.625,"y":0},{"g":3,"k":1.0,"x":0.65,"y":0.174},{"g":3,"k":1.0,"x":0.632,"y":0.365},{"g":3,"k":1.0,"x":0.541,"y":0.541},{"g":3,"k":1.0,"x":0.365,"y":0.632},{"g":3,"k":1.0,"x":0.174,"y":0.65},{"g":3,"k":1.0,"x":0,"y":0.625},{"g":3,"k":1.0,"x":-0.153,"y":0.572},{"g":3,"k":1.0,"x":-0.287,"y":0.497},{"g":3,"k":1.0,"x":-0.402,"y":0.402},{"g":3,"k":1.0,"x":-0.497,"y":0.287},{"g":3,"k":1.0,"x":-0.572,"y":0.153},{"g":3,"k":1.0,"x":-0.625,"y":0},{"g":3,"k":1.0,"x":-0.65,"y":-0.174},{"g":3,"k":1.0,"x":-0.632,"y":-0.365},{"g":3,"k":1.0,"x":-0.541,"y":-0.541},{"g":3,"k":1.0,"x":-0.365,"y":-0.632},{"g":3,"k":1.0,"x":-0.174,"y":-0.65},{"g":3,"k":1.0,"x":0,"y":-0.625},{"g":3,"k":1.0,"x":0.153,"y":-0.572},{"g":3,"k":1.0,"x":0.287,"y":-0.497},{"g":3,"k":1.0,"x":0.402,"y":-0.402},{"g":3,"k":1.0,"x":0.497,"y":-0.287},{"g":3,"k":1.0,"x":0.572,"y":-0.153},
{"g":4,"k":1.05,"x":0.656,"y":0},{"g":4,"k":1.05,"x":0.689,"y":0.185},{"g":4,"k":1.05,"x":0.684,"y":0.395},{"g":4,"k":1.05,"x":0.597,"y":0.597},{"g":4,"k":1.05,"x":0.395,"y":0.684},{"g":4,"k":1.05,"x":0.185,"y":0.689},{"g":4,"k":1.05,"x":0,"y":0.656},{"g":4,"k":1.05,"x":-0.16,"y":0.598},{"g":4,"k":1.05,"x":-0.299,"y":0.518},{"g":4,"k":1.05,"x":-0.418,"y":0.418},{"g":4,"k":1.05,"x":-0.518,"y":0.299},{"g":4,"k":1.05,"x":-0.598,"y":0.16},{"g":4,"k":1.05,"x":-0.656,"y":0},{"g":4,"k":1.05,"x":-0.689,"y":-0.185},{"g":4,"k":1.05,"x":-0.684,"y":-0.395},{"g":4,"k":1.05,"x":-0.597,"y":-0.597},{"g":4,"k":1.05,"x":-0.395,"y":-0.684},{"g":4,"k":1.05,"x":-0.185,"y":-0.689},{"g":4,"k":1.05,"x":0,"y":-0.656},{"g":4,"k":1.05,"x":0.16,"y":-0.598},{"g":4,"k":1.05,"x":0.299,"y":-0.518},{"g":4,"k":1.05,"x":0.418,"y":-0.418},{"g":4,"k":1.05,"x":0.518,"y":-0.299},{"g":4,"k":1.05,"x":0.598,"y":-0.16},
{"g":5,"k":1.6,"x":0.093,"y":1.062},{"g":5,"k":1.6,"x":0,"y":1},{"g":5,"k":1.6,"x":-0.083,"y":0.949},{"g":5,"k":1.6,"x":-0.23,"y":0.86},{"g":5,"k":1.6,"x":-0.42,"y":0.727},{"g":5,"k":1.6,"x":-0.583,"y":0.583},{"g":5,"k":1.6,"x":-0.727,"y":0.42},{"g":5,"k":1.6,"x":-0.86,"y":0.23},{"g":5,"k":1.6,"x":-0.949,"y":0.083},{"g":5,"k":1.6,"x":-1,"y":0},{"g":5,"k":1.6,"x":-1.062,"y":-0.093},
{"g":6,"k":1.6,"x":-0.093,"y":-1.062},{"g":6,"k":1.6,"x":0,"y":-1},{"g":6,"k":1.6,"x":0.083,"y":-0.949},{"g":6,"k":1.6,"x":0.23,"y":-0.86},{"g":6,"k":1.6,"x":0.42,"y":-0.727},{"g":6,"k":1.6,"x":0.583,"y":-0.583},{"g":6,"k":1.6,"x":0.727,"y":-0.42},{"g":6,"k":1.6,"x":0.86,"y":-0.23},{"g":6,"k":1.6,"x":0.949,"y":-0.083},{"g":6,"k":1.6,"x":1,"y":0},{"g":6,"k":1.6,"x":1.062,"y":0.093}
]
},
"resolve":{"scale":{"stroke":"independent"}},
"vconcat":[
 {"resolve":{"scale":{"stroke":"independent"}},
  "vconcat":[
  {
   "width":981,"height":1,
   "view":{"stroke":null},
   "title":{"text":"Hide & Seek: Transformer Symmetries Obscure Sharpness & Riemannian Geometry Finds It","anchor":"middle","fontSize":18,"fontWeight":"bold","offset":3},
   "data":{"values":[{"v":0}]},
   "mark":{"type":"rule","strokeWidth":1.8,"color":"black"},
   "encoding":{"y":{"field":"v","type":"quantitative","scale":{"domain":[0,1]},"axis":null}}
  },
  {"resolve":{"scale":{"stroke":"independent"}},
   "hconcat":[
   {"width":1,"height":1,"view":{"stroke":null},"data":{"values":[]},"mark":"point"},
   {"resolve":{"scale":{"stroke":"independent"}},
    "hconcat":[
    {"resolve":{"scale":{"stroke":"independent"}},
     "vconcat":[
     {"width":1,"height":1,"view":{"stroke":null},"data":{"values":[]},"mark":"point"},
     {"resolve":{"scale":{"stroke":"independent"}},
      "hconcat":[
      {
       "width":246,"height":178,
       "title":{"text":"(a) Loss","dx":-39,"offset":10},
       "data":{"name":"grid"},
       "layer":[
        {"mark":{"type":"rect"},
         "encoding":{
          "x":{"field":"x","type":"quantitative","bin":{"binned":true,"step":0.102},"title":"θ₁","scale":{"domain":[-1.02,1.02],"nice":false,"zero":false},"axis":{"values":[-1,-0.5,0,0.5,1],"format":".1f","labelFlush":false,"labelPadding":2,"titlePadding":3}},
          "y":{"field":"y","type":"quantitative","bin":{"binned":true,"step":0.102},"title":"θ₂","scale":{"domain":[-1.02,1.02],"nice":false,"zero":false},"axis":{"values":[-1,-0.75,-0.5,-0.25,0,0.25,0.5,0.75,1],"format":".2f","labelPadding":5,"titlePadding":8}},
          "color":{"field":"a","type":"quantitative","scale":{"scheme":"viridis","domain":[0,1]},"legend":null}}},
        {"data":{"name":"hyp"},
         "transform":[{"filter":{"field":"p","oneOf":[-0.35,-0.15,-0.04,0.04,0.15,0.35]}}],
         "mark":{"type":"line","interpolate":"monotone","clip":true,"strokeWidth":2},
         "encoding":{
          "x":{"field":"x","type":"quantitative","title":"θ₁"},
          "y":{"field":"y","type":"quantitative","title":"θ₂"},
          "detail":{"field":"g","type":"nominal"},
          "stroke":{"field":"p","type":"ordinal","scale":{"domain":[-0.35,-0.15,-0.04,0.04,0.15,0.35],"range":["#2b3a3a","#6f7575","#a2a7a7","#b9bdbd","#dfe4e7","#ffffff"]},"legend":null}}}
       ]
      },
      {
       "width":9,"height":178,
       "layer":[
        {"data":{"values":[{"v":0},{"v":0.02},{"v":0.04},{"v":0.06},{"v":0.08},{"v":0.1},{"v":0.12},{"v":0.14},{"v":0.16},{"v":0.18},{"v":0.2},{"v":0.22},{"v":0.24},{"v":0.26},{"v":0.28},{"v":0.3},{"v":0.32},{"v":0.34},{"v":0.36},{"v":0.38},{"v":0.4},{"v":0.42},{"v":0.44},{"v":0.46},{"v":0.48},{"v":0.5},{"v":0.52},{"v":0.54},{"v":0.56},{"v":0.58},{"v":0.6},{"v":0.62},{"v":0.64},{"v":0.66},{"v":0.68},{"v":0.7},{"v":0.72},{"v":0.74},{"v":0.76},{"v":0.78},{"v":0.8},{"v":0.82},{"v":0.84},{"v":0.86},{"v":0.88},{"v":0.9},{"v":0.92},{"v":0.94},{"v":0.96},{"v":0.98}]},
         "mark":"rect",
         "encoding":{
          "y":{"field":"v","type":"quantitative","bin":{"binned":true,"step":0.02},"scale":{"domain":[0,1],"nice":false},"axis":{"orient":"right","values":[0,0.2,0.4,0.6,0.8,1],"format":".1f","title":null,"labelPadding":4}},
          "color":{"field":"v","type":"quantitative","scale":{"scheme":"viridis","domain":[0,1]},"legend":null}}},
        {"data":{"values":[{"lv":0.231},{"lv":0.311},{"lv":0.36},{"lv":0.398},{"lv":0.453},{"lv":0.5625}]},
         "mark":{"type":"rule","strokeWidth":2},
         "encoding":{
          "y":{"field":"lv","type":"quantitative","title":null},
          "stroke":{"field":"lv","type":"ordinal","scale":{"domain":[0.231,0.311,0.36,0.398,0.453,0.5625],"range":["#ffffff","#dfe4e7","#b9bdbd","#a2a7a7","#6f7575","#2b3a3a"]},"legend":null}}}
       ]
      }
     ],"spacing":11}
    ],"spacing":0},
    {"resolve":{"scale":{"stroke":"independent"}},
     "vconcat":[
     {"width":1,"height":1,"view":{"stroke":null},"data":{"values":[]},"mark":"point"},
     {"resolve":{"scale":{"stroke":"independent"}},
      "hconcat":[
      {
       "width":291,"height":177,
       "title":{"text":"(b) Euclidean gradient norm","dx":1,"offset":4.5},
       "data":{"name":"grid"},
       "layer":[
        {"mark":{"type":"rect"},
         "encoding":{
          "x":{"field":"x","type":"quantitative","bin":{"binned":true,"step":0.102},"scale":{"domain":[-1.02,1.02],"nice":false,"zero":false},"axis":null},
          "y":{"field":"y","type":"quantitative","bin":{"binned":true,"step":0.102},"scale":{"domain":[-1.02,1.02],"nice":false,"zero":false},"axis":null},
          "color":{"field":"b","type":"quantitative","scale":{"scheme":"viridis","domain":[0,1]},"legend":null}}},
        {"data":{"name":"ell"},
         "transform":[{"filter":"datum.k < 1.5"}],
         "mark":{"type":"line","interpolate":"cardinal-closed","clip":true,"strokeWidth":2.2},
         "encoding":{
          "x":{"field":"x","type":"quantitative","axis":null},
          "y":{"field":"y","type":"quantitative","axis":null},
          "detail":{"field":"g","type":"nominal"},
          "order":{"value":null},
          "stroke":{"field":"k","type":"ordinal","scale":{"domain":[0.424,0.85,1,1.05],"range":["#ffffff","#bcbcbc","#9b9b9b","#8a8a8a"]},"legend":null}}},
        {"data":{"name":"ell"},
         "transform":[{"filter":"datum.k > 1.5"}],
         "mark":{"type":"line","interpolate":"monotone","clip":true,"strokeWidth":2,"color":"#263636"},
         "encoding":{
          "x":{"field":"x","type":"quantitative","axis":null},
          "y":{"field":"y","type":"quantitative","axis":null},
          "detail":{"field":"g","type":"nominal"}}}
       ]
      },
      {
       "width":292,"height":177,
       "title":{"text":"(c) Riemannian gradient norm","offset":4.5},
       "data":{"name":"grid"},
       "layer":[
        {"mark":{"type":"rect"},
         "encoding":{
          "x":{"field":"x","type":"quantitative","bin":{"binned":true,"step":0.102},"scale":{"domain":[-1.02,1.02],"nice":false,"zero":false},"axis":null},
          "y":{"field":"y","type":"quantitative","bin":{"binned":true,"step":0.102},"scale":{"domain":[-1.02,1.02],"nice":false,"zero":false},"axis":null},
          "color":{"field":"c","type":"quantitative","scale":{"scheme":"viridis","domain":[0,1]},"legend":null}}},
        {"data":{"name":"hyp"},
         "mark":{"type":"line","interpolate":"monotone","clip":true,"strokeWidth":2},
         "encoding":{
          "x":{"field":"x","type":"quantitative","axis":null},
          "y":{"field":"y","type":"quantitative","axis":null},
          "detail":{"field":"g","type":"nominal"},
          "stroke":{"field":"p","type":"ordinal","scale":{"domain":[-0.75,-0.62,-0.35,-0.175,-0.15,-0.04,0.04,0.15,0.175,0.35,0.62,0.75],"range":["#4b4560","#5f5873","#8e8a9c","#c9c6d0","#f4eef6","#fbf5fb","#fbf5fb","#f4eef6","#c9c6d0","#8e8a9c","#5f5873","#4b4560"]},"legend":null}}}
       ]
      }
     ],"spacing":7}
    ],"spacing":0}
   ],"spacing":8}
  ],"spacing":-4}
 ],"spacing":26},
 {
  "width":980,"height":22,
  "view":{"stroke":null},
  "encoding":{
   "x":{"field":"side","type":"nominal","scale":{"type":"point","domain":["l","r"],"padding":0},"axis":null},
   "y":{"field":"line","type":"nominal","scale":{"type":"point","domain":["1","2"],"padding":0},"axis":null},
   "text":{"field":"t"}
  },
  "layer":[
   {"data":{"values":[{"line":"1","side":"l","t":"Figure"}]},"mark":{"type":"text","dx":3}},
   {"data":{"values":[{"line":"1","side":"l","t":"1:"}]},"mark":{"type":"text","dx":63.5}},
   {"data":{"values":[{"line":"1","side":"l","t":"Quantities"}]},"mark":{"type":"text","fontWeight":"bold","dx":88.5}},
   {"data":{"values":[{"line":"1","side":"l","t":"from"}]},"mark":{"type":"text","fontWeight":"bold","dx":184.1}},
   {"data":{"values":[{"line":"1","side":"l","t":"the"}]},"mark":{"type":"text","fontWeight":"bold","dx":235.4}},
   {"data":{"values":[{"line":"1","side":"l","t":"Riemannian"}]},"mark":{"type":"text","fontWeight":"bold","dx":271.8}},
   {"data":{"values":[{"line":"1","side":"l","t":"quotient"}]},"mark":{"type":"text","fontWeight":"bold","dx":382.9}},
   {"data":{"values":[{"line":"1","side":"l","t":"manifold"}]},"mark":{"type":"text","fontWeight":"bold","dx":462}},
   {"data":{"values":[{"line":"1","side":"l","t":"respect"}]},"mark":{"type":"text","fontWeight":"bold","dx":546.4}},
   {"data":{"values":[{"line":"1","side":"l","t":"the"}]},"mark":{"type":"text","fontWeight":"bold","dx":615.8}},
   {"data":{"values":[{"line":"1","side":"l","t":"loss"}]},"mark":{"type":"text","fontWeight":"bold","dx":652.2}},
   {"data":{"values":[{"line":"1","side":"l","t":"landscape’s"}]},"mark":{"type":"text","fontWeight":"bold","dx":692.9}},
   {"data":{"values":[{"line":"1","side":"l","t":"symmetry;"}]},"mark":{"type":"text","fontWeight":"bold","dx":798.6}},
   {"data":{"values":[{"line":"1","side":"r","t":"Euclidean"}]},"mark":{"type":"text","fontWeight":"bold","align":"right"}},
   {"data":{"values":[{"line":"2","side":"l","t":"quantities do not."}]},"mark":{"type":"text","fontWeight":"bold","dx":3}},
   {"data":{"values":[{"line":"2","side":"l","t":"We illustrate this here for a synthetic least squares regression task with a two-layer NN, where"}]},"mark":{"type":"text","dx":151}},
   {"data":{"values":[{"line":"2","side":"r","t":"x\u2002↦\u2002θ₂θ₁x"}]},"mark":{"type":"text","fontStyle":"italic","align":"right"}}
  ]
 }
],
"spacing":24
}
